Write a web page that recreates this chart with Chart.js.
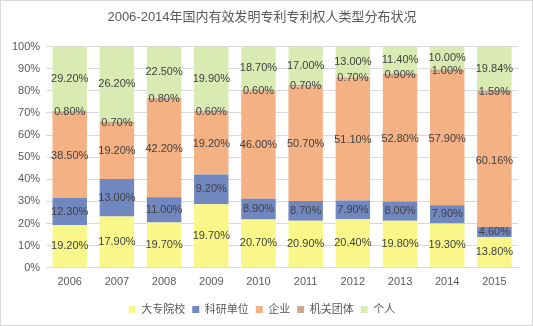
<!DOCTYPE html>
<html><head><meta charset="utf-8">
<script src="https://cdn.jsdelivr.net/npm/chart.js@4/dist/chart.umd.min.js"></script>
<style>html,body{margin:0;padding:0;background:#fff;}canvas{display:block;}</style>
</head><body>
<canvas id="c" width="533" height="326"></canvas>
<script>
const years = ['2006','2007','2008','2009','2010','2011','2012','2013','2014','2015'];
const colleges   = [19.2, 17.9, 19.7, 19.7, 20.7, 20.9, 20.4, 19.8, 19.3, 13.8];
const institutes = [12.3, 13.0, 11.0, 9.2, 8.9, 8.7, 7.9, 8.0, 7.9, 4.6];
const enterprises= [38.5, 19.2, 42.2, 19.2, 46.0, 50.7, 51.1, 52.8, 57.9, 60.16];
const agencies   = [0.8, 0.7, 0.8, 0.6, 0.6, 0.7, 0.7, 0.9, 1.0, 1.59];
const individuals= [29.2, 26.2, 22.5, 19.9, 18.7, 17.0, 13.0, 11.4, 10.0, 19.84];
const seriesNames = ['大专院校','科研单位','企业','机关团体','个人'];
const seriesColors = ['#FAF78A','#7087C0','#F4B183','#C9A992','#DAEAB3'];
const rawSeries = [colleges, institutes, enterprises, agencies, individuals];
const totals = years.map((_, j) => rawSeries.reduce((s, a) => s + a[j], 0));

const FONT = '"Liberation Sans", "Noto Sans CJK SC", sans-serif';

const bgPlugin = {
  id: 'bg',
  beforeDraw(chart) {
    const ctx = chart.ctx;
    ctx.save();
    ctx.fillStyle = '#fff';
    ctx.fillRect(0, 0, chart.width, chart.height);
    ctx.strokeStyle = '#D9D9D9';
    ctx.lineWidth = 1;
    ctx.strokeRect(0.5, 0.5, chart.width - 1, chart.height - 1);
    ctx.restore();
  }
};
const labelPlugin = {
  id: 'labels',
  afterDatasetsDraw(chart) {
    const ctx = chart.ctx;
    ctx.save();
    ctx.font = '11px ' + FONT;
    ctx.fillStyle = '#404040';
    ctx.textAlign = 'center';
    ctx.textBaseline = 'middle';
    chart.data.datasets.forEach((ds, i) => {
      const meta = chart.getDatasetMeta(i);
      meta.data.forEach((el, j) => {
        const y = (el.y + el.base) / 2;
        ctx.fillText(rawSeries[i][j].toFixed(2) + '%', el.x, y);
      });
    });
    ctx.restore();
  }
};

new Chart(document.getElementById('c'), {
  type: 'bar',
  data: {
    labels: years,
    datasets: rawSeries.map((arr, i) => ({
      label: seriesNames[i],
      data: arr.map((v, j) => v / totals[j] * 100),
      backgroundColor: seriesColors[i],
      borderWidth: 0,
      categoryPercentage: 1.0,
      barPercentage: 0.73
    }))
  },
  options: {
    responsive: false,
    animation: false,
    devicePixelRatio: 1,
    layout: { padding: { left: 6, right: 15, top: 2, bottom: 1 } },
    plugins: {
      title: {
        display: true,
        text: '2006-2014年国内有效发明专利专利权人类型分布状况',
        color: '#595959',
        font: { family: FONT, size: 13, weight: 'normal' },
        padding: { top: 8, bottom: 21 }
      },
      legend: {
        position: 'bottom',
        labels: {
          color: '#595959',
          font: { family: FONT, size: 11 },
          boxWidth: 7, boxHeight: 7,
          padding: 7
        }
      },
      tooltip: { enabled: false }
    },
    scales: {
      x: {
        stacked: true,
        grid: { display: false, drawTicks: false },
        border: { color: '#D9D9D9' },
        ticks: { color: '#595959', font: { family: FONT, size: 11 }, padding: 8 }
      },
      y: {
        stacked: true,
        min: 0, max: 100,
        ticks: { stepSize: 10, color: '#595959', font: { family: FONT, size: 11 }, padding: 6,
                 callback: v => v + '%' },
        grid: { color: '#D9D9D9', drawTicks: false },
        border: { display: false }
      }
    }
  },
  plugins: [bgPlugin, labelPlugin]
});
</script>
</body></html>
